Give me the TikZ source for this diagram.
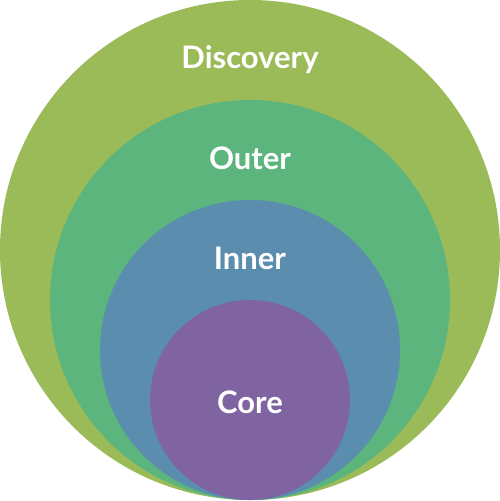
\documentclass[tikz,border=0pt]{standalone}
\usepackage{fontspec}
\setmainfont{Lato}
\usetikzlibrary{positioning}

\definecolor{discoverygreen}{HTML}{9BBB59}
\definecolor{outergreen}{HTML}{5BB57D}
\definecolor{innerblue}{HTML}{5B8DAE}
\definecolor{corepurple}{HTML}{8064A2}

\begin{document}
\begin{tikzpicture}[x=1pt, y=-1pt,
  ring/.style={draw=none},
  lbl/.style={text=white, font=\fontsize{31}{33}\selectfont\bfseries, inner sep=0pt}]
\useasboundingbox (0,0) rectangle (500,501);
% rings, all touching at the bottom
\fill[ring, discoverygreen] (250,250) circle (250);
\fill[ring, outergreen] (250,300) circle (200);
\fill[ring, innerblue] (250,350) circle (150);
\fill[ring, corepurple] (250,400) circle (100);
% labels
\node[lbl] (discovery) at (250,60) {Discovery};
\node[lbl] (outer) at (250,158) {Outer};
\node[lbl] (inner) at (250,258) {Inner};
\node[lbl] (core) at (250,402) {Core};
\end{tikzpicture}
\end{document}
